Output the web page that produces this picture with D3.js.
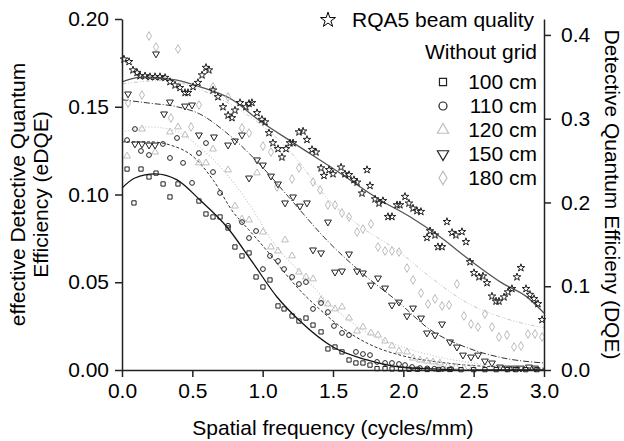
<!DOCTYPE html>
<html><head><meta charset="utf-8">
<script src="https://cdn.jsdelivr.net/npm/d3@7"></script>
<style>
html,body{margin:0;padding:0;background:#fff;}
text{font-family:"Liberation Sans",Arial,sans-serif;fill:#000;}
</style></head>
<body><svg id="c" width="624" height="441"></svg>
<script>
// ---- data (x: cycles/mm) ----
const xTicks = [0, 0.5, 1.0, 1.5, 2.0, 2.5, 3.0];
const leftTicks = [0, 0.05, 0.10, 0.15, 0.20];
const rightTicks = [0, 0.1, 0.2, 0.3, 0.4];
const legendLabels = ["100 cm", "110 cm", "120 cm", "150 cm", "180 cm"];

// RQA5 beam quality (DQE, right axis)
const rqa5 = [[0.014,0.371],[0.050,0.368],[0.078,0.358],[0.107,0.355],[0.128,0.351],[0.164,0.351],[0.199,0.350],[0.235,0.350],[0.270,0.350],[0.306,0.349],[0.341,0.344],[0.377,0.340],[0.412,0.337],[0.448,0.331],[0.469,0.331],[0.505,0.338],[0.540,0.343],[0.569,0.352],[0.597,0.361],[0.618,0.358],[0.647,0.334],[0.682,0.326],[0.718,0.314],[0.754,0.304],[0.782,0.301],[0.803,0.310],[0.839,0.319],[0.881,0.314],[0.903,0.318],[0.924,0.319],[0.960,0.307],[0.995,0.299],[1.017,0.296],[1.045,0.283],[1.073,0.271],[1.109,0.264],[1.137,0.254],[1.166,0.264],[1.194,0.271],[1.216,0.271],[1.258,0.284],[1.287,0.285],[1.315,0.275],[1.351,0.263],[1.379,0.260],[1.415,0.241],[1.436,0.232],[1.472,0.239],[1.500,0.234],[1.557,0.242],[1.585,0.234],[1.614,0.233],[1.649,0.227],[1.671,0.224],[1.706,0.211],[1.742,0.239],[1.763,0.220],[1.799,0.204],[1.827,0.199],[1.855,0.202],[1.891,0.183],[1.919,0.183],[1.955,0.197],[1.976,0.197],[2.012,0.207],[2.040,0.199],[2.069,0.193],[2.097,0.190],[2.125,0.189],[2.168,0.158],[2.190,0.166],[2.225,0.161],[2.246,0.147],[2.275,0.147],[2.310,0.177],[2.346,0.164],[2.374,0.161],[2.417,0.165],[2.445,0.153],[2.474,0.129],[2.502,0.116],[2.538,0.111],[2.566,0.112],[2.595,0.104],[2.630,0.088],[2.659,0.082],[2.680,0.082],[2.716,0.087],[2.744,0.093],[2.772,0.097],[2.808,0.111],[2.836,0.122],[2.872,0.097],[2.900,0.090],[2.929,0.085],[2.957,0.079],[2.986,0.060]];
const rqa5Fit = [[0,0.344],[0.15,0.350],[0.39,0.346],[0.555,0.338],[0.79,0.322],[0.967,0.299],[1.21,0.272],[1.514,0.239],[1.834,0.203],[2.047,0.183],[2.26,0.159],[2.474,0.131],[2.70,0.104],[2.88,0.087],[3.0,0.068]];

// eDQE series (left axis)
const cm100 = [[0.036,0.1145],[0.085,0.0952],[0.135,0.1145],[0.192,0.110],[0.242,0.1122],[0.292,0.106],[0.341,0.0986],[0.398,0.106],[0.547,0.0963],[0.597,0.0889],[0.647,0.0872],[0.697,0.0872],[0.754,0.0809],[0.803,0.0701],[0.853,0.065],[0.903,0.0667],[0.953,0.053],[1.002,0.0473],[1.052,0.0513],[1.109,0.0365],[1.152,0.0348],[1.209,0.0308],[1.258,0.0279],[1.308,0.0296],[1.358,0.0256],[1.415,0.0217],[1.464,0.012],[1.514,0.0131],[1.564,0.0103],[1.614,0.0057],[1.663,0.004],[1.713,0.004],[1.763,0.0028],[1.813,0.0008],[1.870,0.0008],[1.92,0.0006],[1.98,0.0005],[2.04,0.0004],[2.10,0.0004],[2.17,0.0003],[2.25,0.0003],[2.33,0.0003],[2.41,0.0002],[2.50,0.0002],[2.58,0.0002],[2.66,0.0002],[2.74,0.0002],[2.80,0.0002],[2.87,0.0002],[2.95,0.0002]];
const cm100Fit = [[0,0.1037],[0.092,0.1094],[0.235,0.1117],[0.391,0.1083],[0.554,0.0969],[0.746,0.0815],[0.931,0.061],[1.102,0.0416],[1.265,0.0279],[1.50,0.0131],[1.742,0.0057],[1.976,0.0017],[2.21,0.0006],[2.47,0.0],[3.0,0.0]];

const cm110 = [[0.036,0.131],[0.092,0.1373],[0.135,0.1248],[0.192,0.1225],[0.291,0.1288],[0.341,0.1208],[0.391,0.1322],[0.434,0.118],[0.498,0.1066],[0.547,0.1236],[0.597,0.1293],[0.647,0.1128],[0.697,0.1009],[0.754,0.0822],[0.853,0.0843],[0.903,0.0752],[0.953,0.0792],[1.002,0.0575],[1.052,0.065],[1.109,0.0621],[1.152,0.0575],[1.209,0.053],[1.258,0.049],[1.308,0.0501],[1.358,0.0348],[1.415,0.0382],[1.464,0.033],[1.507,0.0251],[1.564,0.0211],[1.614,0.0199],[1.663,0.0103],[1.713,0.0091],[1.763,0.0085],[1.813,0.0046],[1.870,0.004],[1.919,0.004],[1.969,0.0034],[2.012,0.0028],[2.062,0.0017],[2.118,0.0011],[2.17,0.0009],[2.22,0.0007],[2.28,0.0006],[2.34,0.0005]];
const cm110Fit = [[0,0.130],[0.2,0.130],[0.35,0.128],[0.5,0.122],[0.65,0.108],[0.79,0.090],[0.9,0.080],[1.03,0.068],[1.15,0.056],[1.27,0.045],[1.4,0.035],[1.5,0.028],[1.75,0.015],[2.0,0.008],[2.25,0.0045],[2.5,0.0025],[2.75,0.0015],[3.0,0.001]];

const cm120 = [[0.036,0.1219],[0.142,0.1373],[0.235,0.1242],[0.341,0.1356],[0.398,0.1385],[0.448,0.1339],[0.547,0.118],[0.597,0.118],[0.647,0.1259],[0.754,0.114],[0.803,0.0934],[0.853,0.086],[0.903,0.0855],[0.960,0.1123],[1.002,0.0786],[1.059,0.0701],[1.109,0.0678],[1.159,0.0741],[1.209,0.065],[1.258,0.0558],[1.308,0.053],[1.358,0.0519],[1.415,0.0399],[1.464,0.0376],[1.514,0.0348],[1.564,0.0359],[1.614,0.0296],[1.671,0.0222],[1.713,0.0245],[1.770,0.0211],[1.820,0.0199],[1.870,0.0165],[1.919,0.0137],[1.969,0.0108],[2.026,0.0103],[2.069,0.0068],[2.118,0.0057],[2.168,0.0051],[2.211,0.0046],[2.260,0.004],[2.317,0.0023],[2.374,0.0017],[2.43,0.0012],[2.49,0.001]];
const cm120Fit = [[0,0.1356],[0.2,0.1385],[0.4,0.1356],[0.55,0.127],[0.7,0.1157],[0.9,0.095],[1.1,0.070],[1.25,0.057],[1.5,0.036],[1.75,0.021],[2.0,0.013],[2.25,0.0074],[2.5,0.004],[2.75,0.0017],[3.0,0.001]];

const cm150 = [[0.043,0.1573],[0.092,0.1288],[0.142,0.1288],[0.192,0.1282],[0.242,0.1801],[0.235,0.1282],[0.299,0.1459],[0.341,0.1527],[0.448,0.1504],[0.498,0.151],[0.547,0.1339],[0.654,0.1328],[0.754,0.1282],[0.803,0.1305],[0.853,0.1339],[0.903,0.1094],[0.960,0.1197],[1.002,0.1168],[1.059,0.1105],[1.109,0.106],[1.159,0.0952],[1.216,0.0986],[1.265,0.0934],[1.315,0.0952],[1.358,0.0684],[1.415,0.0667],[1.464,0.0843],[1.514,0.0558],[1.564,0.0564],[1.614,0.0661],[1.671,0.0564],[1.713,0.0553],[1.770,0.0484],[1.820,0.0524],[1.870,0.0467],[1.919,0.037],[1.969,0.0387],[2.026,0.0308],[2.069,0.0353],[2.126,0.0296],[2.168,0.0211],[2.225,0.0199],[2.275,0.0262],[2.332,0.016],[2.381,0.0131],[2.424,0.0085],[2.481,0.0074],[2.531,0.0085],[2.580,0.0051],[2.630,0.004],[2.687,0.0017],[2.737,0.0011],[2.787,0.0011],[2.836,0.0011],[2.893,0.0017],[2.936,0.0011]];
const cm150Fit = [[0,0.154],[0.2,0.152],[0.39,0.150],[0.55,0.146],[0.73,0.136],[0.97,0.118],[1.18,0.099],[1.48,0.072],[1.71,0.055],[1.96,0.039],[2.19,0.023],[2.46,0.0125],[2.7,0.007],[3.0,0.004]];

const cm180 = [[0.043,0.1521],[0.142,0.1567],[0.192,0.1903],[0.242,0.184],[0.348,0.1436],[0.398,0.1829],[0.491,0.1385],[0.547,0.151],[0.647,0.1613],[0.754,0.1556],[0.853,0.1379],[0.903,0.135],[1.002,0.1276],[1.059,0.1242],[1.102,0.1043],[1.209,0.1088],[1.258,0.1151],[1.358,0.1071],[1.408,0.1026],[1.464,0.094],[1.514,0.094],[1.564,0.0895],[1.614,0.0872],[1.671,0.0786],[1.713,0.0803],[1.770,0.0832],[1.820,0.0701],[1.870,0.0678],[1.919,0.0678],[1.969,0.0672],[2.026,0.0581],[2.069,0.0513],[2.126,0.0439],[2.175,0.0376],[2.225,0.0405],[2.275,0.0365],[2.325,0.037],[2.381,0.049],[2.431,0.0308],[2.481,0.0262],[2.531,0.0245],[2.580,0.0319],[2.630,0.0245],[2.680,0.0188],[2.737,0.0199],[2.787,0.0131],[2.836,0.0137],[2.886,0.0205],[2.936,0.0205],[2.986,0.0188]];
const cm180Fit = [[0,0.163],[0.3,0.165],[0.55,0.160],[0.8,0.150],[1.0,0.139],[1.2,0.124],[1.48,0.096],[1.71,0.081],[1.96,0.068],[2.19,0.053],[2.46,0.038],[2.70,0.030],[3.0,0.024]];

// ---- layout ----
const svg = d3.select("#c");
const L = 122, R = 544, T = 19, B = 370;
const x = d3.scaleLinear().domain([0, 3]).range([L, R]);
const y = d3.scaleLinear().domain([0, 0.2]).range([B, T]);
const yR = d3.scaleLinear().domain([0, 0.419]).range([B, T]);

const FS = 21;
const DARK = "#222", LIGHT = "#bdbdbd";

// lines
const line = (ys) => d3.line().x(d => x(d[0])).y(d => ys(d[1])).curve(d3.curveMonotoneX);
const fits = [
  {d: cm180Fit, ys: y, c: "#c8c8c8", dash: "4,2,1,2,1,2", w: 1},
  {d: cm120Fit, ys: y, c: "#c8c8c8", dash: "1,2", w: 1.2},
  {d: cm150Fit, ys: y, c: "#333", dash: "6,2,1,2", w: 1},
  {d: cm110Fit, ys: y, c: "#333", dash: "3,2", w: 1},
  {d: cm100Fit, ys: y, c: "#111", dash: null, w: 1.3},
  {d: rqa5Fit, ys: yR, c: "#555", dash: null, w: 1.3}
];
fits.forEach(f => {
  svg.append("path").attr("d", line(f.ys)(f.d)).attr("fill", "none")
    .attr("stroke", f.c).attr("stroke-width", f.w)
    .attr("stroke-dasharray", f.dash);
});

// points
function pts(data, ys, type, size, color, rot) {
  const sym = d3.symbol().type(type).size(size);
  svg.append("g").selectAll("path").data(data).join("path")
    .attr("d", sym)
    .attr("transform", d => `translate(${x(d[0])},${ys(d[1])})` + (rot ? ` rotate(${rot})` : ""))
    .attr("fill", "none").attr("stroke", color).attr("stroke-width", 1);
}
pts(cm180, y, d3.symbolDiamond, 22, LIGHT);
pts(cm120, y, d3.symbolTriangle, 20, LIGHT);
pts(cm150, y, d3.symbolTriangle, 20, DARK, 180);
pts(cm110, y, d3.symbolCircle, 18, DARK);
pts(cm100, y, d3.symbolSquare, 18, DARK);
pts(rqa5, yR, d3.symbolStar, 18, DARK);

// axes
const fmt2 = d3.format(".2f"), fmt1 = d3.format(".1f");
const gx = svg.append("g").attr("transform", `translate(0,${B})`)
  .call(d3.axisBottom(x).tickValues(xTicks).tickFormat(fmt1).tickSize(7).tickSizeOuter(0).tickPadding(6));
const gl = svg.append("g").attr("transform", `translate(${L},0)`)
  .call(d3.axisLeft(y).tickValues(leftTicks).tickFormat(fmt2).tickSize(7).tickSizeOuter(0).tickPadding(6));
const gr = svg.append("g").attr("transform", `translate(${R},0)`)
  .call(d3.axisRight(yR).tickValues(rightTicks).tickFormat(fmt1).tickSize(7).tickSizeOuter(0).tickPadding(10));
[gx, gl, gr].forEach(g => {
  g.selectAll("path.domain").attr("stroke", "#222").attr("stroke-width", 1.5);
  g.selectAll(".tick line").attr("stroke", "#222").attr("stroke-width", 1.5);
  g.selectAll("text").style("font-size", FS + "px").style("font-family", "Liberation Sans, Arial, sans-serif").attr("fill", "#000");
});

// axis titles
svg.append("text").attr("x", (L + R) / 2).attr("y", 435).attr("text-anchor", "middle")
  .style("font-size", FS + "px").text("Spatial frequency (cycles/mm)");
svg.append("text").attr("transform", `translate(25,${(T + B) / 2}) rotate(-90)`).attr("text-anchor", "middle")
  .style("font-size", FS + "px").text("effective Detective Quantum");
svg.append("text").attr("transform", `translate(48,${(T + B) / 2}) rotate(-90)`).attr("text-anchor", "middle")
  .style("font-size", FS + "px").text("Efficiency (eDQE)");
svg.append("text").attr("transform", `translate(605,${(T + B) / 2}) rotate(90)`).attr("text-anchor", "middle")
  .style("font-size", FS + "px").text("Detective Quantum Efficieny (DQE)");

// legend
svg.append("path").attr("d", d3.symbol().type(d3.symbolStar).size(70)())
  .attr("transform", "translate(328,20)").attr("fill", "none").attr("stroke", "#000").attr("stroke-width", 1);
svg.append("text").attr("x", 352).attr("y", 27).style("font-size", FS + "px").text("RQA5 beam quality");
svg.append("text").attr("x", 537).attr("y", 59).attr("text-anchor", "end").style("font-size", FS + "px").text("Without grid");
const legSyms = [
  {t: d3.symbolSquare, c: DARK, s: 50, r: 0},
  {t: d3.symbolCircle, c: DARK, s: 50, r: 0},
  {t: d3.symbolTriangle, c: LIGHT, s: 55, r: 0},
  {t: d3.symbolTriangle, c: DARK, s: 55, r: 180},
  {t: d3.symbolDiamond, c: LIGHT, s: 55, r: 0}
];
const legY = [82, 106, 130, 154, 178];
legendLabels.forEach((lab, i) => {
  const s = legSyms[i];
  svg.append("path").attr("d", d3.symbol().type(s.t).size(s.s)())
    .attr("transform", `translate(443,${legY[i]})` + (s.r ? ` rotate(${s.r})` : ""))
    .attr("fill", "none").attr("stroke", s.c).attr("stroke-width", 1.2);
  svg.append("text").attr("x", 537).attr("y", legY[i] + 7).attr("text-anchor", "end")
    .style("font-size", FS + "px").text(lab);
});
</script></body></html>
